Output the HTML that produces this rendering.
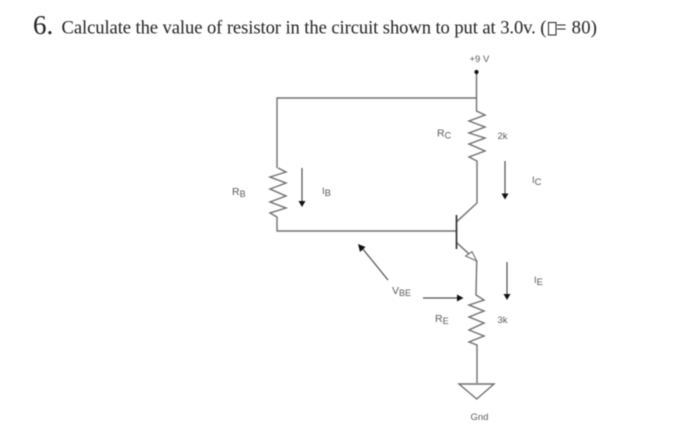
<!DOCTYPE html>
<html>
<head>
<meta charset="utf-8">
<style>
html,body{margin:0;padding:0;background:#fff;width:700px;height:433px;overflow:hidden}
svg{display:block}
.t{font-family:"Liberation Serif",serif;fill:#222}
.l{font-family:"Liberation Sans",sans-serif;fill:#5a5a5a}
</style>
</head>
<body>
<svg width="700" height="433" viewBox="0 0 700 433" xmlns="http://www.w3.org/2000/svg">
<rect width="700" height="433" fill="#fff"/>
<g style="filter:blur(0.4px)">
<text class="t" x="33" y="34" font-size="27">6.</text>
<text class="t" x="61.5" y="33.5" font-size="18.6" textLength="485" lengthAdjust="spacing">Calculate the value of resistor in the circuit shown to put at 3.0v. (</text>
<rect x="548.5" y="22.5" width="7.5" height="12.5" fill="none" stroke="#222" stroke-width="1"/>
<text class="t" x="556" y="33.5" font-size="18.6" textLength="41" lengthAdjust="spacing">= 80)</text>

<g fill="none" stroke="#707070" stroke-width="1.4" stroke-linejoin="miter">
<path d="M476.5 72V98H277V168"/>
<path d="M476.5 98V111L485 115L469 121L485 127L469 133L485 138L469 144L485 151L469 157L477 161V203L456.7 221.7"/>
<path d="M278 168L286 172L270 177L286 183L270 189L286 196L270 202L286 208L270 213L277 217V231H456"/>
<path d="M456.7 242.7L476.7 261L476 295L484 300L469 305L484 311L469 317L484 323L469 330L484 336L469 342L477 345V383"/>
<path d="M459 384H494L476.7 399Z"/>
<path d="M465.7 256L472 251.7L476.7 261Z" stroke-width="1.1" fill="#fff"/>
</g>
<path d="M456.5 215V249" stroke="#333" stroke-width="1.7"/>
<circle cx="476.5" cy="72" r="2.1" fill="#111"/>

<g stroke="#505050" stroke-width="1.2" fill="none">
<path d="M302 168V201"/>
<path d="M505 161V194"/>
<path d="M507 262V295"/>
<path d="M388 280L362 248"/>
<path d="M423 298H457"/>
</g>
<g fill="#111">
<path d="M298.5 201H305.5L302 207Z"/>
<path d="M501.5 193.5H508.5L505 199.5Z"/>
<path d="M503.5 294H510.5L507 300Z"/>
<path d="M457 294.5V301.5L463.5 298Z"/>
<path d="M358 244L365.5 247L360 252Z"/>
</g>

<g class="l" font-size="9.5">
<text x="469.5" y="62">+9 V</text>
<text x="497.5" y="139">2k</text>
<text x="497.5" y="323">3k</text>
<text x="470.5" y="420">Gnd</text>
<text x="437" y="136.5" font-size="10.5">R<tspan font-size="9" dy="2">C</tspan></text>
<text x="232" y="195" font-size="10.5">R<tspan font-size="9" dy="2">B</tspan></text>
<text x="435" y="322" font-size="10.5">R<tspan font-size="9" dy="2">E</tspan></text>
<text x="532" y="183">I<tspan dy="2">C</tspan></text>
<text x="322" y="194">I<tspan dy="2">B</tspan></text>
<text x="534" y="283">I<tspan dy="2">E</tspan></text>
<text x="392" y="294" font-size="10.5">V<tspan font-size="9" dy="2">BE</tspan></text>
</g>
</g>
</svg>
</body>
</html>
